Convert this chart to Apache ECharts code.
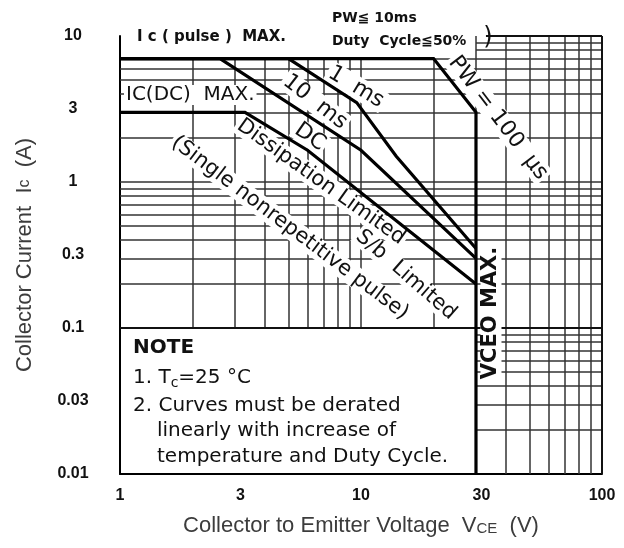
<!DOCTYPE html>
<html><head><meta charset="utf-8">
<script src="https://cdn.jsdelivr.net/npm/echarts@6/dist/echarts.min.js"></script>
<style>html,body{margin:0;padding:0;background:#fff}#c{width:624px;height:548px}</style>
</head><body><div id="c"></div>
<script>
// ---- tick labels ----
const xTickLabels = ['1', '3', '10', '30', '100'];
const yTickLabels = ['0.01', '0.03', '0.1', '0.3', '1', '3', '10'];

// ---- curves (V in volts, I in amperes) ----
const pw100V = [1, 20, 30, 30];
const pw100I = [7, 7, 3, 0.01];
const ms1V = [1, 5, 9.6, 14, 30];
const ms1I = [7, 7, 3.5, 1.5, 0.35];
const ms10V = [1, 2.6, 10, 30];
const ms10I = [7, 7, 1.65, 0.3];
const dcV = [1, 3.3, 6, 30];
const dcI = [3, 3, 1.65, 0.2];

// ---- grid line values ----
const gridV = [2, 3, 4, 5, 6, 7, 8, 9, 10, 20, 30, 40, 50, 60, 70, 80, 90];
const gridI = [0.02, 0.03, 0.04, 0.05, 0.06, 0.07, 0.08, 0.09, 0.1,
               0.2, 0.3, 0.4, 0.5, 0.6, 0.7, 0.8, 0.9, 1,
               2, 3, 4, 5, 6, 7, 8, 9];

const zip = (a, b) => a.map((v, i) => [v, b[i]]);

function fmt(labels) {
  return function (v) {
    let best = labels[0], d = 1e9;
    for (const s of labels) {
      const dd = Math.abs(Math.log(v / parseFloat(s)));
      if (dd < d) { d = dd; best = s; }
    }
    return best;
  };
}

// grid segments
const gridSeg = [];
gridV.forEach(v => {
  if (v <= 20) gridSeg.push({ coords: [[v, 0.1], [v, 7]] });
  else gridSeg.push({ coords: [[v, 0.01], [v, 10]] });
});
gridI.forEach(i => {
  if (i < 0.1) gridSeg.push({ coords: [[30, i], [100, i]] });
  else if (i === 0.1) {}
  else if (i <= 7) gridSeg.push({ coords: [[1, i], [100, i]] });
  else gridSeg.push({ coords: [[30, i], [100, i]] });
});
const frameSeg = [
  { coords: [[1, 0.1], [100, 0.1]] },
  { coords: [[100, 0.01], [100, 10]] },
  { coords: [[33, 10], [100, 10]] }
];

const F = 'DejaVu Sans';
function T(text, x, y, size, rotDeg, opts) {
  opts = opts || {};
  return {
    type: 'text', x: x, y: y, z: 5,
    rotation: (rotDeg || 0) * Math.PI / 180,
    style: Object.assign({
      text: text, fill: '#111',
      fontFamily: F, fontSize: size, fontWeight: opts.bold ? 'bold' : 'normal',
      align: opts.align || 'center', verticalAlign: 'middle',
      backgroundColor: opts.nobg ? 'transparent' : '#fff', padding: opts.pad || [0, 2]
    }, opts.extra || {})
  };
}

const graphics = [
  T('I c ( pulse )  MAX.', 135, 37, 15, 0, { bold: true, align: 'left', nobg: true }),
  T('PW≦ 10ms', 330, 18, 14, 0, { bold: true, align: 'left', nobg: true }),
  T('Duty  Cycle≦50%', 330, 41, 14, 0, { bold: true, align: 'left', nobg: true }),
  T(')', 488, 38, 24, 0, { nobg: true }),
  T('IC(DC)  MAX.', 124, 95, 20, 0, { align: 'left' }),
  T('1  ms', 356, 87, 22, -31),
  T('10  ms', 315, 102, 22, -38),
  T('DC', 310, 137, 22, -35),
  T('Dissipation Limited', 321, 182, 21, -35.5),
  T('S/b  Limited', 406, 275, 21, -41),
  T('(Single nonrepetitive pulse)', 290, 228, 21, -37),
  T('PW = 100  µs', 498, 118, 22, -52.6),
  T('VCEO MAX.', 491, 313, 21, 90, { bold: true }),
  T('NOTE', 131, 348, 20, 0, { bold: true, align: 'left', nobg: true }),
  T('{a|1. T}{s|c}{a|=25 °C}', 131, 378, 20, 0, { align: 'left', nobg: true, extra: {
    rich: { a: { fontFamily: F, fontSize: 20, fill: '#111' }, s: { fontFamily: F, fontSize: 14, fill: '#111', padding: [10, 0, 0, 0] } } } }),
  T('2. Curves must be derated', 131, 406, 20, 0, { align: 'left', nobg: true }),
  T('linearly with increase of', 155, 431, 20, 0, { align: 'left', nobg: true }),
  T('temperature and Duty Cycle.', 155, 457, 20, 0, { align: 'left', nobg: true })
];

const chart = echarts.init(document.getElementById('c'));
const curveStyle = { color: '#000', width: 3.2, join: 'miter' };
function curve(name, V, I) {
  return { name: name, type: 'line', data: zip(V, I), symbol: 'none', z: 10,
           lineStyle: curveStyle, silent: true, animation: false };
}
chart.setOption({
  animation: false,
  backgroundColor: '#fff',
  grid: { left: 120, right: 22, top: 36, bottom: 74 },
  xAxis: {
    type: 'log', logBase: Math.sqrt(10), min: 1, max: 100, splitNumber: 4,
    axisLine: { show: true, lineStyle: { color: '#000', width: 2 } },
    axisTick: { show: false }, splitLine: { show: false }, minorSplitLine: { show: false },
    axisLabel: { formatter: fmt(xTickLabels), fontFamily: 'Liberation Sans', fontWeight: 'bold',
                 fontSize: 16, color: '#111', margin: 14 },
    name: 'Collector to Emitter Voltage  V{s|CE}  (V)', nameLocation: 'middle', nameGap: 41,
    nameTextStyle: { fontFamily: 'Liberation Sans', fontSize: 22, color: '#3c3c3c',
      rich: { s: { fontFamily: 'Liberation Sans', fontSize: 15, color: '#3c3c3c', padding: [6, 0, 0, 0] } } }
  },
  yAxis: {
    type: 'log', logBase: Math.sqrt(10), min: 0.01, max: 10, splitNumber: 6,
    axisLine: { show: true, lineStyle: { color: '#000', width: 2 } },
    axisTick: { show: false }, splitLine: { show: false }, minorSplitLine: { show: false },
    axisLabel: { formatter: fmt(yTickLabels), fontFamily: 'Liberation Sans', fontWeight: 'bold',
                 fontSize: 16, color: '#111', margin: 47, align: 'center' },
    name: 'Collector Current  I{s|c}  (A)', nameLocation: 'middle', nameGap: 84,
    nameTextStyle: { fontFamily: 'Liberation Sans', fontSize: 22, color: '#3c3c3c',
      rich: { s: { fontFamily: 'Liberation Sans', fontSize: 16, color: '#3c3c3c' } } }
  },
  series: [
    { type: 'lines', coordinateSystem: 'cartesian2d', z: 1, silent: true, animation: false,
      lineStyle: { color: '#333', width: 1.5, opacity: 1 }, data: gridSeg },
    { type: 'lines', coordinateSystem: 'cartesian2d', z: 1, silent: true, animation: false,
      lineStyle: { color: '#111', width: 2, opacity: 1 }, data: frameSeg },
    curve('PW=100µs', pw100V, pw100I),
    curve('1ms', ms1V, ms1I),
    curve('10ms', ms10V, ms10I),
    curve('DC', dcV, dcI)
  ],
  graphic: graphics
});
</script>
</body></html>
